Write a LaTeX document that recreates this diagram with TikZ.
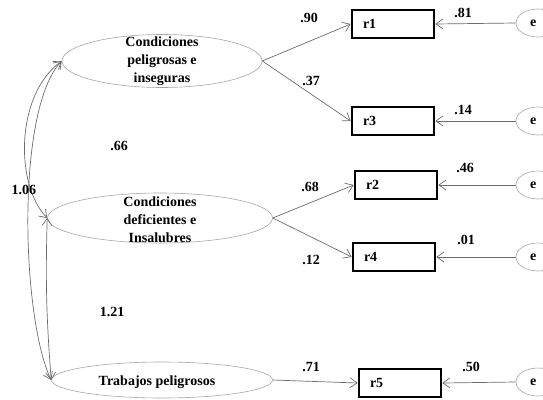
\documentclass[tikz,border=0pt]{standalone}
\usepackage{fontspec}
\setmainfont{Liberation Serif}
\usepackage{tikz}
\usetikzlibrary{shapes.geometric}
\usetikzlibrary{arrows.meta}

\begin{document}
\begin{tikzpicture}[x=1pt,y=1pt,
        font=\fontsize{14}{18}\selectfont\bfseries,
        latent/.style={draw=gray!70,line width=0.6pt,ellipse,inner sep=0pt},
        obs/.style={draw,line width=2.7pt,rectangle,minimum height=28pt,text width=60pt,inner xsep=11pt,align=left},
        err/.style={draw=gray!70,line width=0.6pt,ellipse,minimum width=44pt,minimum height=28pt,inner sep=0pt,text width=16pt,align=left},
        arr/.style={draw=gray!85!black,line width=0.7pt,-{Straight Barb[length=7pt,width=10pt]}},
        covarr/.style={draw=gray!85!black,line width=0.7pt,{Straight Barb[length=7pt,width=10pt]}-{Straight Barb[length=7pt,width=10pt]}}]
        \clip (0,0) rectangle (543,-399);
        \node[latent,minimum width=200pt,minimum height=53pt] (f1) at (162,-61) {};
        \node[latent,minimum width=225pt,minimum height=50pt] (f2) at (160,-218) {};
        \node[latent,minimum width=221pt,minimum height=36pt] (f3) at (162,-380) {};
        \node[align=center] (t1) at (f1) {Condiciones\\peligrosas e\\inseguras};
        \node[align=center] (t2) at (160,-220) {Condiciones\\deficientes e\\Insalubres};
        \node (t3) at (157,-382) {Trabajos peligrosos};
        \node[obs] (r1) at (393,-24) {r1};
        \node[obs] (r3) at (393,-121) {r3};
        \node[obs] (r2) at (396,-185) {r2};
        \node[obs] (r4) at (394,-257) {r4};
        \node[obs] (r5) at (400,-383) {r5};
        \node[err] (e1) at (538,-23) {e};
        \node[err] (e3) at (538,-121) {e};
        \node[err] (e2) at (538,-185) {e};
        \node[err] (e4) at (538,-257) {e};
        \node[err] (e5) at (538,-382) {e};
        \draw[arr] (f1.east) -- (r1.west);
        \draw[arr] (f1.east) -- (r3.west);
        \draw[arr] (f2.east) -- (r2.west);
        \draw[arr] (f2.east) -- (r4.west);
        \draw[arr] (f3.east) -- (r5.west);
        \draw[arr] (e1.west) -- (r1.east);
        \draw[arr] (e3.west) -- (r3.east);
        \draw[arr] (e2.west) -- (r2.east);
        \draw[arr] (e4.west) -- (r4.east);
        \draw[arr] (e5.west) -- (r5.east);
        \draw[covarr] (f1.west) .. controls (15,-95) and (15,-185) .. (f2.west);
        \draw[covarr] (f1.west) .. controls (15,-110) and (22,-320) .. (f3.west);
        \draw[covarr] (f2.west) to[bend right=3] (f3.west);
        \node (l90) at (309,-18) {.90};
        \node (l37) at (311,-81) {.37};
        \node (l68) at (310,-187) {.68};
        \node (l12) at (311,-260) {.12};
        \node (l71) at (311,-367) {.71};
        \node (l81) at (463,-13) {.81};
        \node (l14) at (463,-110) {.14};
        \node (l46) at (465,-168) {.46};
        \node (l01) at (466,-240) {.01};
        \node (l50) at (471,-367) {.50};
        \node (l66) at (119,-146) {.66};
        \node (l106) at (24,-190) {1.06};
        \node (l121) at (112,-312) {1.21};
    \end{tikzpicture}
\end{document}
